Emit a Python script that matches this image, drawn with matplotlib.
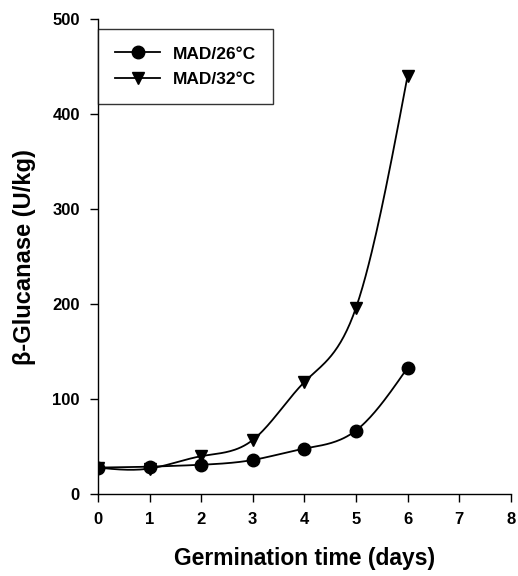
import numpy as np
import matplotlib
matplotlib.use('Agg')
import matplotlib.pyplot as plt

# germination days and beta-glucanase activity (U/kg)
days = [0, 1, 2, 3, 4, 5, 6]
mad_26 = [28, 29, 31, 36, 48, 67, 133]
mad_32 = [28, 27, 40, 57, 118, 196, 440]

x_ticks = [0, 1, 2, 3, 4, 5, 6, 7, 8]
y_ticks = [0, 100, 200, 300, 400, 500]


def smooth(x, y, n=200):
    """natural cubic spline through the points, for drawing the curve only"""
    x = np.asarray(x, float)
    y = np.asarray(y, float)
    k = len(x)
    h = np.diff(x)
    A = np.zeros((k, k))
    b = np.zeros(k)
    A[0, 0] = A[-1, -1] = 1
    for i in range(1, k - 1):
        A[i, i - 1] = h[i - 1]
        A[i, i] = 2 * (h[i - 1] + h[i])
        A[i, i + 1] = h[i]
        b[i] = 6 * ((y[i + 1] - y[i]) / h[i] - (y[i] - y[i - 1]) / h[i - 1])
    m = np.linalg.solve(A, b)
    xs = np.linspace(x[0], x[-1], n)
    idx = np.clip(np.searchsorted(x, xs) - 1, 0, k - 2)
    t0 = x[idx]
    t1 = x[idx + 1]
    hh = t1 - t0
    ys = (m[idx] * (t1 - xs) ** 3 / (6 * hh) + m[idx + 1] * (xs - t0) ** 3 / (6 * hh)
          + (y[idx] / hh - m[idx] * hh / 6) * (t1 - xs)
          + (y[idx + 1] / hh - m[idx + 1] * hh / 6) * (xs - t0))
    return xs, ys


plt.rcParams['font.family'] = ['Liberation Sans', 'DejaVu Sans']
plt.rcParams['font.weight'] = 'bold'

fig = plt.figure(figsize=(5.18, 5.76), dpi=100)
ax = fig.add_axes([0.189, 0.142, 0.797, 0.825])

for vals, mk, lab in [(mad_26, 'o', 'MAD/26°C'), (mad_32, 'v', 'MAD/32°C')]:
    xs, ys = smooth(days, vals)
    ax.plot(xs, ys, color='black', lw=1.3)
    ax.plot(days, vals, linestyle='none', marker=mk, color='black', markersize=9)
    ax.plot([], [], color='black', lw=1.3, marker=mk, markersize=9, label=lab)

ax.set_xlim(0, 8)
ax.set_ylim(0, 500)
ax.set_xticks(x_ticks)
ax.set_yticks(y_ticks)
ax.tick_params(direction='out', length=6, width=1, labelsize=12, pad=7)
for s in ['top', 'right']:
    ax.spines[s].set_visible(False)
for s in ['left', 'bottom']:
    ax.spines[s].set_linewidth(1)

ax.set_xlabel('Germination time (days)', fontsize=16.5, fontweight='bold', labelpad=14)
ax.set_ylabel('β-Glucanase (U/kg)', fontsize=17, fontweight='bold', labelpad=12)

leg = ax.legend(loc='upper left', bbox_to_anchor=(0.0, 0.979), fontsize=12.5,
                frameon=True, fancybox=False, edgecolor='black', borderpad=1.0,
                handlelength=2.6, handletextpad=0.7, labelspacing=0.6,
                borderaxespad=0)
leg.get_frame().set_linewidth(1)

fig.savefig('out.png', dpi=100)
